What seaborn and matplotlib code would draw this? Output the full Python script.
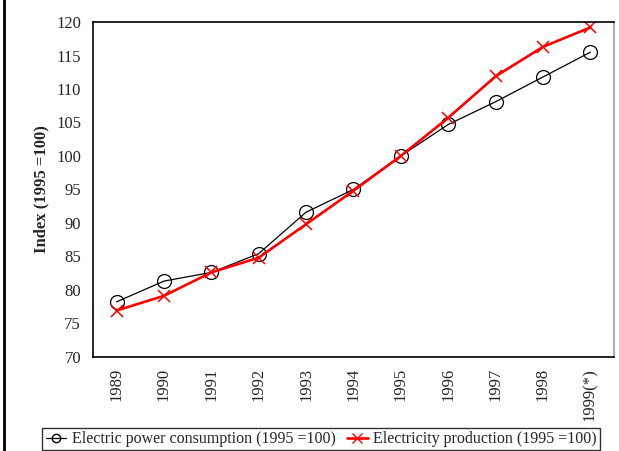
import numpy as np
import pandas as pd
import matplotlib
matplotlib.use('Agg')
import matplotlib.pyplot as plt
import seaborn as sns
from matplotlib.lines import Line2D

years = ['1989', '1990', '1991', '1992', '1993', '1994', '1995', '1996', '1997', '1998', '1999(*)']
consumption = [78.2, 81.3, 82.6, 85.4, 91.6, 95.0, 100.0, 104.7, 108.1, 111.8, 115.5]
production = [76.9, 79.1, 82.6, 84.8, 89.8, 94.8, 100.0, 105.7, 111.9, 116.3, 119.2]

sns.set_style('white')
plt.rcParams['font.family'] = ['Liberation Serif', 'DejaVu Serif']

df = pd.DataFrame({'pos': np.arange(len(years)), 'year': years,
                   'consumption': consumption, 'production': production})

fig = plt.figure(figsize=(6.19, 4.51), dpi=100)
ax = fig.add_axes([0.150, 0.209, 0.842, 0.742])

sns.lineplot(data=df, x='pos', y='consumption', ax=ax, color='black', linewidth=0.9,
             marker='o', markersize=10, markerfacecolor='none', markeredgecolor='black',
             markeredgewidth=0.9)
sns.lineplot(data=df, x='pos', y='production', ax=ax, color='#ff0000', linewidth=1.9,
             marker='x', markersize=9, markeredgecolor='#ff0000', markeredgewidth=1.1)

ax.set_xlim(-0.5, len(years) - 0.5)
ax.set_ylim(70, 120)
ax.set_yticks(np.arange(70, 121, 5))
ax.set_xticks(df['pos'])
ax.set_xticklabels(years, rotation=90)
ax.set_xticks(np.arange(-0.5, len(years), 1), minor=True)
ax.tick_params(axis='x', which='major', length=0, pad=8, labelsize=12)
ax.tick_params(axis='x', which='minor', length=4, width=1, direction='out', color='black')
ax.tick_params(axis='y', length=4, width=1, direction='out', color='black', labelsize=12, pad=4.5)
ax.set_xlabel('')
ax.set_ylabel('Index (1995 =100)', fontweight='bold', fontsize=12, labelpad=5)

for side in ['left', 'bottom', 'top']:
    ax.spines[side].set_color('black')
    ax.spines[side].set_linewidth(1.2)
ax.spines['right'].set_color('#a0a0a0')
ax.spines['right'].set_linewidth(1.2)

handles = [
    Line2D([], [], color='black', linewidth=0.9, marker='o', markersize=6,
           markerfacecolor='none', markeredgecolor='black'),
    Line2D([], [], color='#ff0000', linewidth=1.9, marker='x', markersize=7,
           markeredgecolor='#ff0000'),
]
leg = fig.legend(handles, ['Electric power consumption (1995 =100)', 'Electricity production (1995 =100)'],
                 loc='upper center', bbox_to_anchor=(0.519, 0.051), ncol=2, frameon=True,
                 fancybox=False, fontsize=11.5, handlelength=1.3, handletextpad=0.35,
                 columnspacing=0.7, borderpad=0.2, borderaxespad=0)
leg.get_frame().set_edgecolor('black')
leg.get_frame().set_linewidth(1.0)

# figure border on the left side
fig.add_artist(Line2D([0.006, 0.006], [0, 1], transform=fig.transFigure, color='black', linewidth=2))

fig.savefig('out.png', dpi=100)
